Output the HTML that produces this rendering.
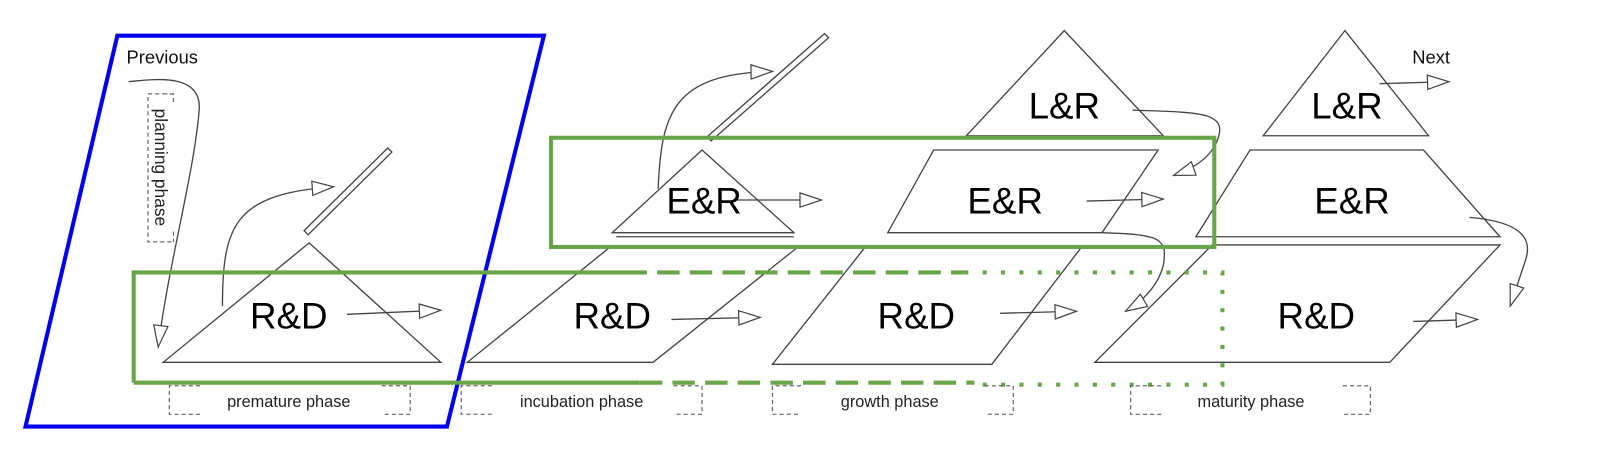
<!DOCTYPE html>
<html><head><meta charset="utf-8"><style>
html,body{margin:0;padding:0;background:#fff;}
svg{display:block;font-family:"Liberation Sans",Arial,sans-serif;}
</style></head><body>
<svg width="1600" height="463" viewBox="0 0 1568 453.7" preserveAspectRatio="none" xmlns="http://www.w3.org/2000/svg">
<defs>
<marker id="a" markerWidth="24" markerHeight="16" refX="22" refY="8" orient="auto" markerUnits="userSpaceOnUse">
<path d="M1,1 L22,8 L1,15 Z" fill="#fff" stroke="#444" stroke-width="1.2"/>
</marker>
</defs>
<g fill="none" stroke="#444" stroke-width="1.3">
<polygon points="303,238 160,355 432,355"/>
<polygon points="598,242 782,242 640,355 458,355"/>
<polygon points="688,147 600,228 778,228"/>
<line x1="604" y1="232" x2="778" y2="232"/>
<polygon points="848,242 1060,242 972,357 757,357"/>
<polygon points="915,147 1135,147 1080,228 870,228"/>
<polygon points="1043,30 947,133 1140,133"/>
<polygon points="1188,240 1470,240 1362,355 1073,355"/>
<polygon points="1225,147 1395,147 1470,232 1172,232"/>
<polygon points="1318,30 1238,133 1400,133"/>
<polygon points="298,226 380,145 384,149 302,230"/>
<polygon points="693,134 808,33 812,37 697,138"/>
<path d="M340,308 L432,304" marker-end="url(#a)"/>
<path d="M218,300 C218,220 230,190 327,183" marker-end="url(#a)"/>
<path d="M126,80 C150,78 200,70 195,110 C190,170 165,260 155,340" marker-end="url(#a)"/>
<path d="M658,313 L745,311" marker-end="url(#a)"/>
<path d="M718,196 L805,196" marker-end="url(#a)"/>
<path d="M645,185 C648,110 660,72 757,70" marker-end="url(#a)"/>
<path d="M980,307 L1055,305" marker-end="url(#a)"/>
<path d="M1065,197 L1140,195" marker-end="url(#a)"/>
<path d="M1110,108 C1180,110 1205,110 1192,140 C1185,155 1170,165 1150,172" marker-end="url(#a)"/>
<path d="M1080,228 C1135,230 1145,232 1140,260 C1135,280 1120,295 1103,305" marker-end="url(#a)"/>
<path d="M1352,82 L1420,80" marker-end="url(#a)"/>
<path d="M1385,315 L1448,313" marker-end="url(#a)"/>
<path d="M1440,213 C1500,218 1500,240 1495,255 C1490,270 1485,285 1480,300" marker-end="url(#a)"/>
</g>
<polygon points="115,35 533,35 438,418 25,418" fill="none" stroke="#0000ee" stroke-width="4"/>
<g fill="none" stroke="#68a548" stroke-width="4">
<rect x="540" y="135" width="650" height="107"/>
<path d="M131,375 L131,267 L612,267"/>
<path d="M612,267 L945,267" stroke-dasharray="22,10"/>
<path d="M131,375 L627,375"/>
<path d="M627,375 L955,375" stroke-dasharray="22,10"/>
<path d="M945,267 L1198,267 L1198,377 L955,377" stroke-dasharray="4,14"/>
</g>
<g fill="none" stroke="#666" stroke-width="1.2" stroke-dasharray="4,3">
<path d="M196,378 L166,378 L166,406 L196,406 M374,378 L402,378 L402,406 L374,406"/>
<path d="M482,378 L452,378 L452,406 L482,406 M660,378 L688,378 L688,406 L660,406"/>
<path d="M785,378 L757,378 L757,406 L785,406 M965,378 L993,378 L993,406 L965,406"/>
<path d="M1138,378 L1108,378 L1108,406 L1138,406 M1316,378 L1343,378 L1343,406 L1316,406"/>
<path d="M170,92 L145,92 L145,237 L170,237 M160,92 L170,92 L170,102 M170,227 L170,237"/>
</g>
<g font-size="16" fill="#222" text-anchor="middle">
<text x="283" y="399">premature phase</text>
<text x="570" y="399">incubation phase</text>
<text x="872" y="399">growth phase</text>
<text x="1226" y="399">maturity phase</text>
<text transform="translate(152,164) rotate(90)" font-size="17">planning phase</text>
</g>
<g font-size="18" fill="#111">
<text x="124" y="62">Previous</text>
<text x="1384" y="62">Next</text>
</g>
<g font-size="36" fill="#000" text-anchor="middle">
<text x="283" y="322">R&amp;D</text>
<text x="600" y="322">R&amp;D</text>
<text x="898" y="322">R&amp;D</text>
<text x="1290" y="322">R&amp;D</text>
<text x="690" y="209">E&amp;R</text>
<text x="985" y="209">E&amp;R</text>
<text x="1325" y="209">E&amp;R</text>
<text x="1043" y="116">L&amp;R</text>
<text x="1320" y="116">L&amp;R</text>
</g>
</svg>
</body></html>
